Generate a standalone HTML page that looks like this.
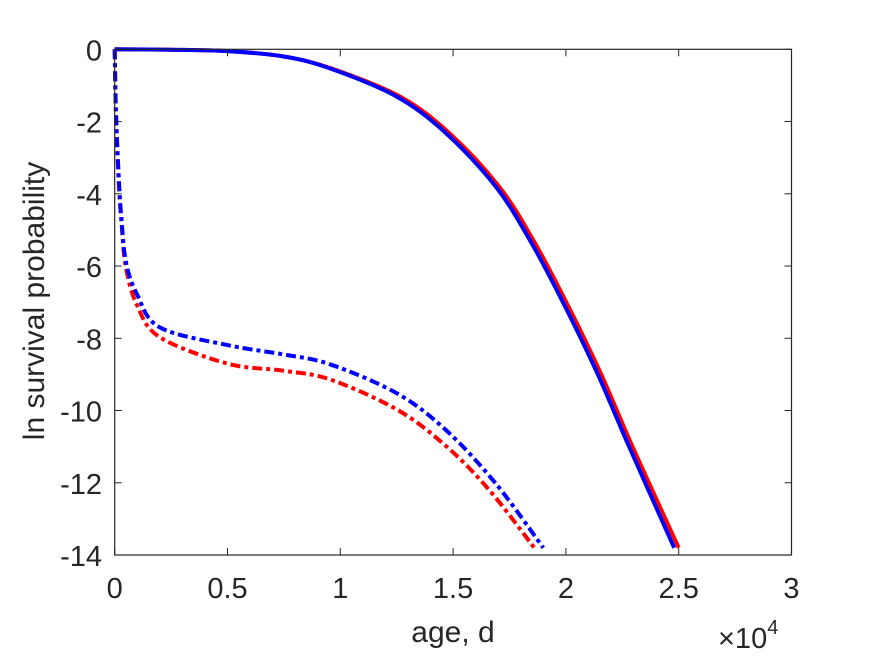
<!DOCTYPE html>
<html><head><meta charset="utf-8"><style>
body{margin:0;background:#fff;}
svg{display:block;font-family:"Liberation Sans",sans-serif;}
</style></head><body>
<svg id="chart" width="875" height="656" viewBox="0 0 875 656">
<rect x="0" y="0" width="875" height="656" fill="#fff"/>
<g id="plot"></g>
<g id="axes"></g>
<text x="453" y="642" text-anchor="middle" font-size="30" fill="#262626">age, d</text>
<text x="0" y="0" transform="translate(44,301) rotate(-90)" text-anchor="middle" font-size="30" fill="#262626">ln survival probability</text>
<text x="718" y="648" font-size="29" fill="#262626">×10<tspan dy="-14" font-size="20">4</tspan></text>
</svg>
<script>
const xTicks=[0,0.5,1,1.5,2,2.5,3];
const xTickLabels=["0","0.5","1","1.5","2","2.5","3"];
const yTicks=[0,-2,-4,-6,-8,-10,-12,-14];
const yTickLabels=["0","-2","-4","-6","-8","-10","-12","-14"];
const blueSolidX=[0,0.25,0.5,0.75,0.954,1.25,1.47,1.69,1.84,1.99,2.14,2.28,2.48];
const blueSolidY=[0,-0.01,-0.05,-0.2,-0.53,-1.31,-2.33,-3.81,-5.28,-7.04,-8.98,-11.0,-13.8];
const redSolidX=[0,0.25,0.5,0.75,0.96,1.265,1.485,1.705,1.855,2.005,2.155,2.295,2.50];
const redSolidY=[0,-0.01,-0.05,-0.2,-0.53,-1.31,-2.33,-3.81,-5.28,-7.04,-8.98,-11.0,-13.8];
const blueDashX=[0,0.004,0.01,0.02,0.03,0.05,0.1,0.2,0.5,0.75,0.954,1.25,1.47,1.69,1.90];
const blueDashY=[0,-1.4,-2.5,-3.8,-4.7,-5.9,-6.8,-7.7,-8.19,-8.45,-8.72,-9.52,-10.55,-12.03,-13.8];
const redDashX=[0,0.004,0.01,0.02,0.03,0.05,0.1,0.2,0.5,0.75,0.954,1.25,1.47,1.66,1.86];
const redDashY=[0,-1.5,-2.6,-3.9,-4.8,-6.05,-7.1,-7.97,-8.7,-8.9,-9.14,-9.97,-10.99,-12.2,-13.8];

const L=114.7,R=791.5,T=49.3,B=555;
const xs=v=>L+(v-0)/(3-0)*(R-L);
const ys=v=>T+(0-v)/(14)*(B-T);
const NS="http://www.w3.org/2000/svg";
const plot=document.getElementById('plot');
const axes=document.getElementById('axes');
function mk(tag,attrs,parent){const e=document.createElementNS(NS,tag);for(const k in attrs)e.setAttribute(k,attrs[k]);parent.appendChild(e);return e;}

function smoothPath(P){
  let d='M'+P[0][0].toFixed(1)+','+P[0][1].toFixed(1);
  for(let i=0;i<P.length-1;i++){
    const p0=P[i-1]||P[i],p1=P[i],p2=P[i+1],p3=P[i+2]||P[i+1];
    const c1=[p1[0]+(p2[0]-p0[0])/6,p1[1]+(p2[1]-p0[1])/6];
    const c2=[p2[0]-(p3[0]-p1[0])/6,p2[1]-(p3[1]-p1[1])/6];
    d+=' C'+c1.map(v=>v.toFixed(1)).join(',')+' '+c2.map(v=>v.toFixed(1)).join(',')+' '+p2[0].toFixed(1)+','+p2[1].toFixed(1);
  }
  return d;
}
function series(X,Y,color,dash,name){
  const P=X.map((x,i)=>[xs(x),ys(Y[i])]);
  const p=mk('path',{d:smoothPath(P),fill:'none',stroke:color,'stroke-width':4,'stroke-linejoin':'round'},plot);
  if(dash)p.setAttribute('stroke-dasharray',dash);
  
  
}
series(redDashX,redDashY,'#ff0000','10 4 4 4','red-dashdot-line');
series(blueDashX,blueDashY,'#0000ff','10 4 4 4','blue-dashdot-line');
series(redSolidX,redSolidY,'#ff0000',null,'red-solid-line');
series(blueSolidX,blueSolidY,'#0000ff',null,'blue-solid-line');

const box=mk('rect',{x:L,y:T,width:R-L,height:B-T,fill:'none',stroke:'#262626','stroke-width':1.2},axes);


xTicks.forEach((t,i)=>{
  const x=xs(t);
  mk('line',{x1:x,y1:B,x2:x,y2:B-7,stroke:'#262626'},axes);
  mk('line',{x1:x,y1:T,x2:x,y2:T+7,stroke:'#262626'},axes);
  const tx=mk('text',{x:x,y:598,'text-anchor':'middle','font-size':29,fill:'#262626'},axes);
  tx.textContent=xTickLabels[i];
  
  
});
yTicks.forEach((t,i)=>{
  const y=ys(t);
  mk('line',{x1:L,y1:y,x2:L+7,y2:y,stroke:'#262626'},axes);
  mk('line',{x1:R,y1:y,x2:R-7,y2:y,stroke:'#262626'},axes);
  const tx=mk('text',{x:102,y:y+11,'text-anchor':'end','font-size':29,fill:'#262626'},axes);
  tx.textContent=yTickLabels[i];
  
  
});
</script>
</body></html>
